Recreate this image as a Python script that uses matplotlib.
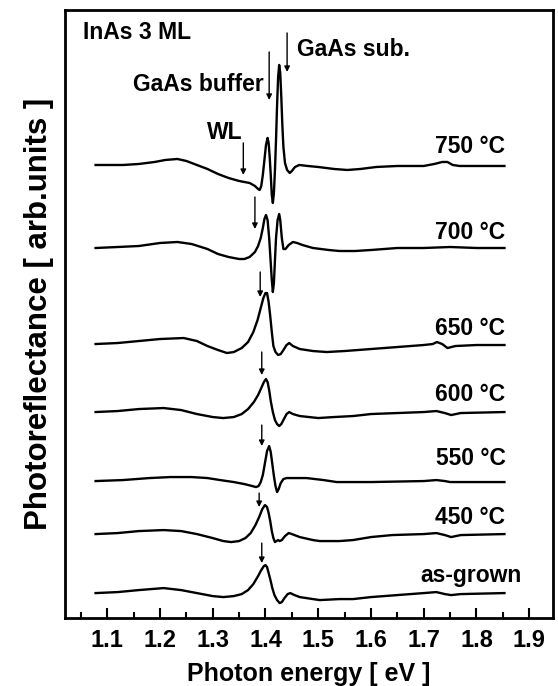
import numpy as np
import matplotlib.pyplot as plt

plt.rcParams['font.family'] = ['Liberation Sans', 'DejaVu Sans']
plt.rcParams['font.weight'] = 'bold'

# Photoreflectance spectra, InAs 3 ML
# energy [eV] and signal [arb. units, relative to each curve's baseline]
labels = ['750 °C', '700 °C', '650 °C', '600 °C', '550 °C', '450 °C', 'as-grown']
offsets = [453, 370, 274, 206, 137, 84, 25]

e_750 = [1.078, 1.10, 1.13, 1.16, 1.19, 1.21, 1.233, 1.25, 1.27, 1.29, 1.31, 1.33, 1.35,
         1.36, 1.37, 1.38, 1.386, 1.389, 1.392, 1.395, 1.398, 1.401, 1.404, 1.406, 1.408,
         1.410, 1.412, 1.414, 1.416, 1.418, 1.420, 1.422, 1.424, 1.426, 1.428, 1.430, 1.432,
         1.434, 1.437, 1.441, 1.446, 1.450, 1.456, 1.464, 1.48, 1.50, 1.53, 1.555, 1.58,
         1.61, 1.65, 1.70, 1.72, 1.735, 1.745, 1.755, 1.768, 1.80, 1.853]
s_750 = [0, 0, 0, 1, 3, 5, 6, 4, 0, -4, -9, -13, -16,
         -17, -18, -21, -24, -25, -21, -10, 5, 20, 27, 22, 8,
         -10, -30, -38, -28, -5, 25, 60, 88, 100, 92, 68, 40,
         18, 2, -5, -8, -6, -2, 0, -1, -2, -4, -5, -4,
         -2, -1, -1, 1, 3, 3, 0, -1, -1, -1]

e_700 = [1.078, 1.12, 1.16, 1.20, 1.233, 1.26, 1.29, 1.31, 1.33, 1.35, 1.36, 1.37, 1.38,
         1.386, 1.391, 1.395, 1.398, 1.401, 1.404, 1.407, 1.410, 1.412, 1.414, 1.416, 1.418,
         1.420, 1.423, 1.426, 1.428, 1.431, 1.434, 1.438, 1.444, 1.452, 1.46, 1.47, 1.49,
         1.52, 1.54, 1.57, 1.60, 1.65, 1.70, 1.75, 1.80, 1.853]
s_700 = [0, 1, 2, 5, 6, 4, -1, -6, -9, -11, -11, -9, -4,
         2, 10, 20, 29, 33, 28, 10, -15, -32, -44, -35, -12,
         10, 28, 34, 28, 10, -1, -1, 3, 6, 5, 3, 0,
         -2, -3, -3, -2, 0, 0, 1, 0, 0]

e_650 = [1.078, 1.12, 1.16, 1.20, 1.245, 1.27, 1.29, 1.31, 1.327, 1.34, 1.355, 1.367, 1.377,
         1.385, 1.391, 1.396, 1.400, 1.403, 1.406, 1.409, 1.412, 1.415, 1.419, 1.424, 1.429,
         1.434, 1.440, 1.445, 1.452, 1.465, 1.49, 1.516, 1.55, 1.60, 1.65, 1.70, 1.717,
         1.725, 1.735, 1.745, 1.76, 1.80, 1.853]
s_650 = [0, 1, 3, 5, 6, 3, -2, -6, -9, -8, -4, 2, 12,
         24, 36, 46, 51, 51, 42, 28, 12, -2, -8, -11, -10,
         -6, -1, 1, -2, -5, -7, -8, -7, -5, -3, -1, 0,
         2, 0, -4, -2, -1, -1]

e_600 = [1.078, 1.12, 1.16, 1.207, 1.24, 1.27, 1.30, 1.32, 1.34, 1.355, 1.367, 1.378, 1.386,
         1.392, 1.397, 1.401, 1.404, 1.407, 1.410, 1.414, 1.418, 1.422, 1.426, 1.430, 1.435,
         1.440, 1.445, 1.452, 1.465, 1.50, 1.53, 1.566, 1.60, 1.65, 1.70, 1.724, 1.74,
         1.752, 1.77, 1.853]
s_600 = [0, 1, 3, 4, 2, -2, -5, -6, -5, -2, 3, 10, 17,
         24, 30, 33, 30, 22, 11, 0, -8, -12, -14, -12, -7,
         -2, 0, -2, -4, -6, -5, -4, -2, -1, 0, 1, -1,
         -3, -1, 0]

e_550 = [1.078, 1.13, 1.18, 1.22, 1.26, 1.29, 1.314, 1.34, 1.36, 1.375, 1.382, 1.387, 1.391,
         1.395, 1.399, 1.403, 1.407, 1.410, 1.413, 1.416, 1.419, 1.422, 1.425, 1.429, 1.434,
         1.44, 1.478, 1.51, 1.535, 1.60, 1.70, 1.724, 1.74, 1.75, 1.853]
s_550 = [0, 1, 3, 4, 4, 3, 1, -1, -3, -5, -6, -5, -1,
         6, 18, 30, 35, 29, 17, 5, -5, -11, -8, -2, 2,
         3, 3, 1, -1, -1, 0, 1, 0, -1, -1]

e_450 = [1.078, 1.12, 1.16, 1.207, 1.24, 1.27, 1.30, 1.32, 1.335, 1.35, 1.362, 1.372, 1.381,
         1.388, 1.394, 1.399, 1.403, 1.406, 1.409, 1.412, 1.415, 1.418, 1.421, 1.424, 1.427,
         1.431, 1.437, 1.444, 1.45, 1.465, 1.49, 1.503, 1.54, 1.566, 1.60, 1.64, 1.70,
         1.724, 1.74, 1.752, 1.77, 1.853]
s_450 = [0, 1, 3, 4, 3, 0, -4, -7, -8, -7, -4, 1, 9,
         17, 25, 29, 27, 21, 13, 3, -4, -8, -7, -6, -7,
         -6, -2, 1, 0, -3, -6, -7, -7, -6, -3, -1, 0,
         1, -1, -3, -1, 0]

e_ag = [1.078, 1.12, 1.16, 1.207, 1.24, 1.27, 1.30, 1.32, 1.34, 1.355, 1.367, 1.377, 1.386,
        1.392, 1.397, 1.400, 1.403, 1.406, 1.409, 1.413, 1.417, 1.422, 1.427, 1.431, 1.436,
        1.442, 1.447, 1.455, 1.465, 1.49, 1.503, 1.54, 1.566, 1.60, 1.65, 1.70, 1.724,
        1.74, 1.752, 1.77, 1.853]
s_ag = [0, 1, 3, 5, 3, 0, -3, -4, -3, -1, 3, 9, 17,
        23, 27, 28, 26, 20, 14, 5, -2, -7, -10, -9, -5,
        -1, 0, -2, -4, -6, -7, -6, -6, -4, -2, 0, 1,
        -1, -2, -1, 0]

energies = [e_750, e_700, e_650, e_600, e_550, e_450, e_ag]
signals = [s_750, s_700, s_650, s_600, s_550, s_450, s_ag]

# transition arrows: (energy, top, bottom) relative to each curve baseline
arrow_e = [1.380, 1.390, 1.393, 1.393, 1.388, 1.393]
arrow_top = [51, 72, 60, 56, 41, 50]
arrow_bot = [19, 47, 37, 35, 27, 30]

fig = plt.figure(figsize=(5.58, 6.86), dpi=100)
ax = fig.add_axes([0.1165, 0.099, 0.8745, 0.8865])

for e, s, off in zip(energies, signals, offsets):
    ax.plot(e, np.array(s) + off, color='black', lw=1.7, solid_joinstyle='round')

label_dy = [18, 15, 16, 18, 23, 17, 18]
for i, lab in enumerate(labels):
    xr = 1.885 if lab == 'as-grown' else 1.855
    ax.text(xr, offsets[i] + label_dy[i], lab, ha='right', va='center', fontsize=16.5,
            fontweight='bold')

def arrow(x, y0, y1):
    ax.annotate('', xy=(x, y1), xytext=(x, y0),
                arrowprops=dict(arrowstyle='-|>', color='black', lw=1.0,
                                mutation_scale=8, shrinkA=0, shrinkB=0))

# 750 °C curve arrows
arrow(1.358, offsets[0] + 22, offsets[0] - 10)
arrow(1.407, offsets[0] + 113, offsets[0] + 65)
arrow(1.441, offsets[0] + 132, offsets[0] + 93)
for i in range(6):
    arrow(arrow_e[i], offsets[i + 1] + arrow_top[i], offsets[i + 1] + arrow_bot[i])

ax.text(1.055, 585, 'InAs 3 ML', fontsize=16.5, fontweight='bold', va='center')
ax.text(1.460, 568, 'GaAs sub.', fontsize=16.5, fontweight='bold', va='center')
ax.text(1.148, 533, 'GaAs buffer', fontsize=16.5, fontweight='bold', va='center')
ax.text(1.290, 485, 'WL', fontsize=16.5, fontweight='bold', va='center')

ax.set_xlim(1.02, 1.945)
ax.set_ylim(0, 608)
ax.set_xticks(np.arange(1.1, 1.95, 0.1))
ax.set_xticks(np.arange(1.05, 1.95, 0.1), minor=True)
ax.set_xticklabels(['%.1f' % v for v in np.arange(1.1, 1.95, 0.1)], fontsize=17,
                   fontweight='bold')
ax.tick_params(axis='x', which='major', direction='in', length=7, width=1.5, pad=8)
ax.tick_params(axis='x', which='minor', direction='in', length=4, width=1.5)
ax.set_yticks([])
for sp in ax.spines.values():
    sp.set_linewidth(2)

ax.set_xlabel('Photon energy [ eV ]', fontsize=18, fontweight='bold', labelpad=7)
ax.set_ylabel('Photoreflectance [ arb.units ]', fontsize=22.5, fontweight='bold', labelpad=8)

fig.savefig('out.png', dpi=100)
